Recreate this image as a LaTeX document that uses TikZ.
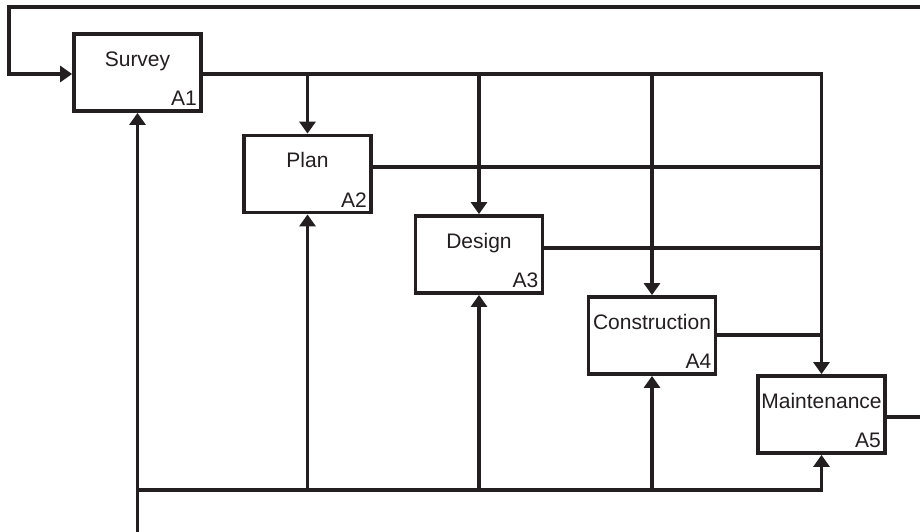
\documentclass[tikz,border=0pt]{standalone}
\usepackage{fontspec}
\setmainfont{Liberation Sans}
\usepackage{xcolor}
\usetikzlibrary{arrows.meta,calc}
\definecolor{ink}{HTML}{231F20}
\tikzset{
  actbox/.style={rectangle, draw=ink, fill=white, line width=3.8pt,
                 minimum width=127pt, minimum height=77pt, inner sep=0pt},
  ttl/.style={font=\fontsize{21}{23}\selectfont, text=ink, inner sep=0pt, anchor=base},
  num/.style={font=\fontsize{21}{23}\selectfont, text=ink, inner sep=0pt, anchor=base east},
  wire/.style={draw=ink, line width=3.2pt},
  flow/.style={wire, -{Triangle[length=12pt,width=16pt]}},
}
\newcommand{\act}[4]{%
  \node[actbox] (#1) at (#2) {};
  \node[ttl] (#1-t) at ([yshift=-34pt]#1.north) {#3};
  \node[num] (#1-n) at ([xshift=-6pt,yshift=7pt]#1.south east) {#4};
}

\begin{document}
\begin{tikzpicture}[x=1pt,y=-1pt]
\useasboundingbox (0,0) rectangle (920,531);
\clip (0,0) rectangle (920,531);
% activities
\act{Survey}{137.5,72.5}{Survey}{A1}
\act{Plan}{307.5,174}{Plan}{A2}
\act{Design}{479,254.5}{Design}{A3}
\act{Construction}{652,335.5}{Construction}{A4}
\act{Maintenance}{821.5,414.5}{Maintenance}{A5}
% outputs down to the later stages
\coordinate (topR) at ($(Maintenance.north |- Survey.east)+(0,1.5)$);
\draw[flow] ([yshift=-1.5pt]Survey.east) -- (topR) -- (Maintenance.north);
\foreach \n in {Plan,Design,Construction}
  \draw[flow] (\n.north |- topR) -- (\n.north);
\foreach \n/\dy in {Plan/7pt,Design/6.5pt,Construction/0.5pt}
  \draw[wire] ([yshift=\dy]\n.east) -| (topR);
% mechanisms from below
\coordinate (foot) at (Survey.south |- 0,545);
\coordinate (botR) at (Maintenance.south |- 0,490);
\draw[flow] (foot) -- (Survey.south);
\draw[flow] (Survey.south |- botR) -- (botR) -- (Maintenance.south);
\foreach \n in {Plan,Design,Construction}
  \draw[flow] (\n.south |- botR) -- (\n.south);
% feedback loop
\draw[flow] ([yshift=-2.5pt]Maintenance.east) -- ++(60,0) |- (9,7) |- ([yshift=-1.5pt]Survey.west);
\end{tikzpicture}
\end{document}
